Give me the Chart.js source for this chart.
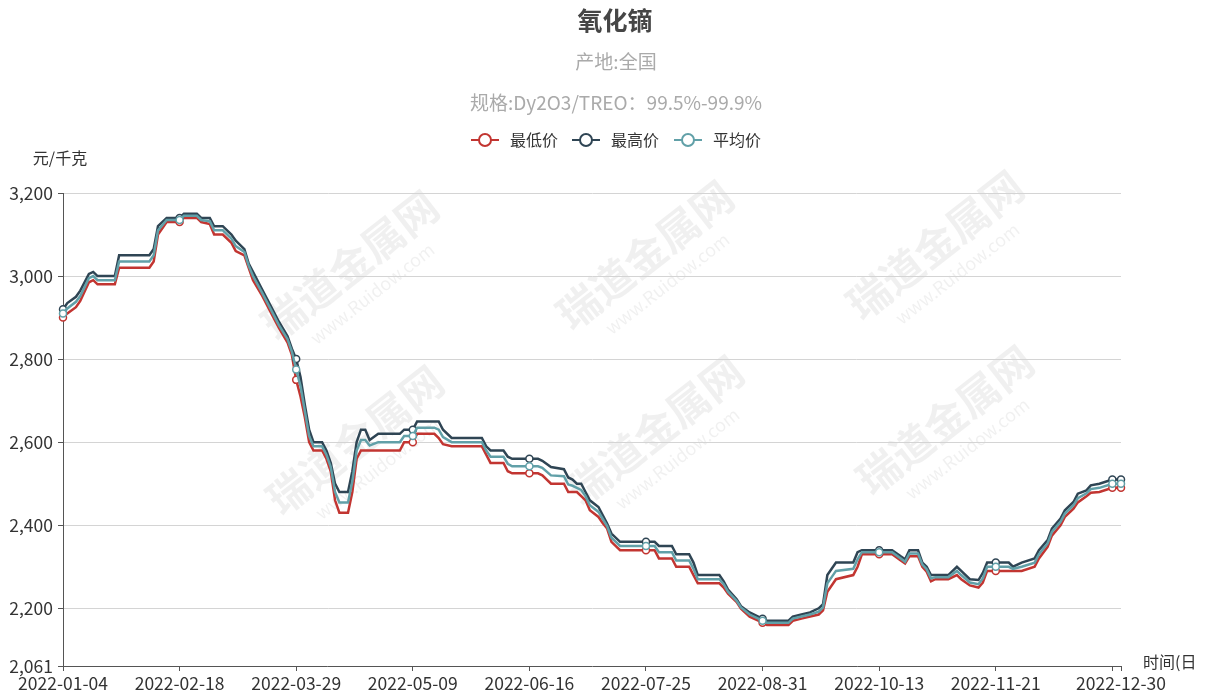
<!DOCTYPE html>
<html><head><meta charset="utf-8">
<script src="https://cdn.jsdelivr.net/npm/chart.js@4.4.1/dist/chart.umd.min.js"></script>
<style>html,body{margin:0;padding:0;background:#fff}#wrap{width:1208px;height:698px;position:relative}</style>
</head><body><div id="wrap"><canvas id="c" width="1208" height="698"></canvas></div>
<script>
// trading-day index of each reading
const xIndex = [0,1,3,4,6,7,8,12,13,20,
21,22,24,27,28,31,32,34,35,37,
39,40,42,43,44,46,48,50,52,53,
54,55,56,57,58,60,61,62,63,64,
66,67,68,69,70,71,73,78,79,81,
82,86,87,88,90,97,98,99,102,103,
104,108,110,111,113,116,117,118,119,120,
121,122,124,125,126,127,129,135,137,138,
141,142,145,146,147,152,153,154,156,157,
159,161,162,163,168,169,171,173,175,176,
177,178,179,183,184,185,189,192,194,195,
196,198,199,200,201,202,205,207,208,210,
212,213,214,216,219,220,222,225,226,228,
229,231,232,234,235,237,238,240,243,245];
const lowPrice = [2900,2910,2925,2940,2985,2990,2980,2980,3020,3020,
3035,3100,3130,3130,3140,3140,3130,3125,3100,3100,
3080,3060,3050,3020,2990,2955,2915,2875,2840,2810,
2750,2710,2660,2600,2580,2580,2560,2530,2460,2430,
2430,2480,2560,2580,2580,2580,2580,2580,2600,2600,
2620,2620,2610,2595,2590,2590,2570,2550,2550,2530,
2525,2525,2525,2520,2500,2500,2480,2480,2480,2470,
2460,2436,2420,2405,2392,2360,2340,2340,2340,2320,
2320,2300,2300,2280,2260,2260,2250,2235,2215,2199,
2180,2170,2165,2160,2160,2170,2175,2180,2185,2195,
2240,2255,2270,2280,2300,2330,2330,2330,2315,2308,
2325,2325,2300,2288,2265,2270,2270,2280,2270,2255,
2250,2262,2290,2290,2290,2290,2290,2300,2320,2348,
2375,2400,2420,2440,2455,2470,2478,2480,2490,2490];
const highPrice = [2920,2935,2950,2965,3005,3010,3000,3000,3050,3050,
3065,3120,3140,3140,3150,3150,3140,3140,3120,3120,
3100,3085,3065,3030,3010,2970,2930,2890,2855,2825,
2800,2757,2690,2630,2600,2600,2580,2550,2500,2480,
2480,2530,2600,2630,2630,2605,2620,2620,2630,2630,
2650,2650,2650,2630,2610,2610,2590,2580,2580,2565,
2560,2560,2560,2555,2540,2535,2515,2510,2500,2500,
2480,2460,2444,2424,2404,2380,2360,2360,2360,2350,
2350,2330,2330,2310,2280,2280,2265,2245,2222,2205,
2190,2180,2175,2170,2170,2180,2185,2190,2200,2210,
2280,2295,2310,2310,2335,2340,2340,2340,2325,2318,
2340,2340,2310,2300,2280,2280,2280,2300,2290,2270,
2268,2285,2310,2310,2310,2300,2310,2320,2340,2364,
2392,2416,2436,2456,2476,2484,2496,2500,2510,2510];
const avgPrice = [2910,2922,2938,2952,2995,3000,2990,2990,3035,3035,
3050,3110,3135,3135,3145,3145,3135,3132,3110,3110,
3090,3072,3058,3025,3000,2962,2922,2882,2848,2818,
2775,2735,2675,2615,2590,2590,2570,2540,2480,2455,
2455,2505,2580,2605,2605,2592,2600,2600,2615,2615,
2635,2635,2630,2612,2600,2600,2580,2565,2565,2548,
2542,2542,2542,2538,2520,2518,2498,2495,2490,2485,
2470,2448,2432,2415,2398,2370,2350,2350,2350,2335,
2335,2315,2315,2295,2270,2270,2258,2240,2218,2202,
2185,2175,2170,2165,2165,2175,2180,2185,2192,2202,
2260,2275,2290,2295,2318,2335,2335,2335,2320,2312,
2332,2332,2305,2294,2272,2275,2275,2290,2280,2262,
2258,2272,2300,2300,2300,2295,2300,2310,2330,2356,
2384,2408,2428,2448,2465,2477,2487,2490,2500,2500];

const tickIndex = [0,27,54,81,108,135,162,189,216,243,245];
const tickLabels = ['2022-01-04','2022-02-18','2022-03-29','2022-05-09','2022-06-16','2022-07-25','2022-08-31','2022-10-13','2022-11-21','','2022-12-30'];
const markerIndex = [0,27,54,81,108,135,162,189,216,243,245];
const yTicks = [2061,2200,2400,2600,2800,3000,3200];
const seriesNames = ['最低价','最高价','平均价'];
const seriesColors = ['#c23531','#2f4554','#61a0a8'];
const titleText = '氧化镝';
const subText1 = '产地:全国';
const subText2 = '规格:Dy2O3/TREO：99.5%-99.9%';
const yName = '元/千克';
const xName = '时间(日';

const FONT = "'Noto Sans CJK SC', 'Microsoft YaHei', sans-serif";
const seriesValues = [lowPrice, highPrice, avgPrice];

const decor = {
  id: 'decor',
  beforeDraw(chart) {
    const c = chart.ctx;
    c.save();
    c.fillStyle = 'rgba(0,0,0,0.06)';
    const spots = [[350,265],[645,255],[935,245],[355,440],[655,430],[945,420]];
    spots.forEach(([x,y]) => {
      c.save();
      c.translate(x, y);
      c.rotate(-38 * Math.PI / 180);
      c.textAlign = 'center';
      c.textBaseline = 'middle';
      c.font = 'bold 42px ' + FONT;
      c.fillText('瑞道金属网', 0, 0);
      c.font = '18px ' + FONT;
      c.fillText('www.Ruidow.com', 0, 36);
      c.restore();
    });
    c.restore();
  },
  afterDraw(chart) {
    const c = chart.ctx;
    c.save();
    c.textAlign = 'center';
    c.textBaseline = 'middle';
    c.fillStyle = '#464646';
    c.font = 'bold 25px ' + FONT;
    c.fillText(titleText, 615, 20);
    c.fillStyle = '#aaaaaa';
    c.font = '19px ' + FONT;
    c.fillText(subText1, 616, 62);
    c.fillText(subText2, 616, 103);
    // legend
    const cxs = [485, 586, 688];
    seriesNames.forEach((n, i) => {
      const cx = cxs[i], cy = 140;
      c.strokeStyle = seriesColors[i];
      c.lineWidth = 2;
      c.beginPath(); c.moveTo(cx - 14, cy); c.lineTo(cx + 14, cy); c.stroke();
      c.beginPath(); c.arc(cx, cy, 6, 0, Math.PI * 2);
      c.fillStyle = '#fff'; c.fill(); c.stroke();
      c.fillStyle = '#333';
      c.font = '16px ' + FONT;
      c.textAlign = 'left';
      c.fillText(n, cx + 25, cy);
    });
    c.fillStyle = '#333';
    c.font = '16px ' + FONT;
    c.textAlign = 'center';
    c.fillText(yName, 60, 158);
    c.textAlign = 'left';
    c.fillText(xName, 1143, 662);
    c.restore();
  }
};

new Chart(document.getElementById('c'), {
  type: 'line',
  data: {
    datasets: seriesNames.map((name, i) => ({
      label: name,
      data: xIndex.map((x, k) => ({ x: x, y: seriesValues[i][k] })),
      borderColor: seriesColors[i],
      backgroundColor: '#fff',
      borderWidth: 2.5,
      tension: 0,
      fill: false,
      clip: false,
      order: [3, 2, 1][i],
      pointRadius: ctx => (ctx.raw && markerIndex.includes(ctx.raw.x)) ? 3.5 : 0,
      pointBackgroundColor: '#fff',
      pointBorderColor: seriesColors[i],
      pointBorderWidth: 1.5
    }))
  },
  options: {
    responsive: false,
    animation: false,
    events: [],
    layout: { padding: { top: 193, right: 87, left: 0, bottom: 0 }, autoPadding: false },
    plugins: { legend: { display: false }, title: { display: false }, tooltip: { enabled: false } },
    scales: {
      x: {
        type: 'linear', min: 0, max: 245,
        afterBuildTicks: s => { s.ticks = tickIndex.map(v => ({ value: v })); },
        afterFit: s => { s.height = 32; },
        ticks: {
          autoSkip: false, maxRotation: 0, minRotation: 0, padding: 2,
          color: '#333', font: { size: 17.5, family: FONT },
          callback: v => { const k = tickIndex.indexOf(v); return k >= 0 ? tickLabels[k] : ''; }
        },
        grid: { drawOnChartArea: false, drawTicks: true, tickLength: 5, tickColor: '#555' },
        border: { color: '#555', width: 1 }
      },
      y: {
        min: 2061, max: 3200,
        afterBuildTicks: s => { s.ticks = yTicks.map(v => ({ value: v })); },
        afterFit: s => { s.width = 63; },
        ticks: {
          padding: 5, color: '#333', font: { size: 17.5, family: FONT },
          callback: v => Number(v).toLocaleString('en-US')
        },
        grid: {
          color: ctx => (ctx.tick && ctx.tick.value === 2061) ? 'rgba(0,0,0,0)' : '#d4d4d4',
          tickColor: '#555', tickLength: 5, lineWidth: 1
        },
        border: { color: '#555', width: 1 }
      }
    }
  },
  plugins: [decor]
});
</script>
</body></html>
